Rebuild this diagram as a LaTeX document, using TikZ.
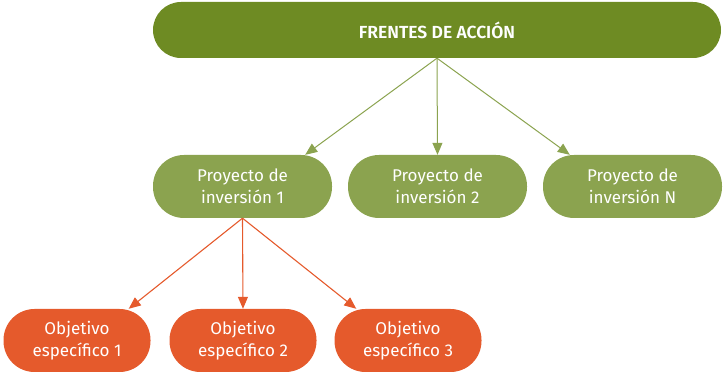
\documentclass[tikz,border=0pt]{standalone}
\usepackage{fontspec}
\setmainfont{Fira Sans}
\usetikzlibrary{arrows.meta,calc}
\definecolor{frente}{HTML}{6E8B23}
\definecolor{proyecto}{HTML}{8BA34F}
\definecolor{objetivo}{HTML}{E55A2C}
\begin{document}
\begin{tikzpicture}[x=1pt,y=-1pt,
    pill/.style={rectangle,inner sep=0pt,text=white,align=center,
                 font=\fontsize{17}{22}\selectfont},
    frentebox/.style={pill,fill=frente,minimum width=568pt,minimum height=56pt,
                 rounded corners=28pt,font=\fontsize{17.5}{22}\selectfont\fontspec{Fira Sans SemiBold}},
    proybox/.style={pill,fill=proyecto,minimum width=179pt,minimum height=63pt,
                 rounded corners=31pt},
    objbox/.style={pill,fill=objetivo,minimum width=147pt,minimum height=63pt,
                 rounded corners=31pt},
    garrow/.style={draw=proyecto,line width=1pt,-{Triangle[length=12pt,width=10pt]}},
    oarrow/.style={draw=objetivo,line width=1.1pt,-{Triangle[length=12pt,width=10pt]}}]
  \useasboundingbox (0,0) rectangle (724,374);
  \node[frentebox] (frentes) at (437,30) {FRENTES DE ACCIÓN};
  \node[proybox] (p1) at (242.5,186.5) {Proyecto de\\inversión 1};
  \node[proybox] (p2) at (437.5,186.5) {Proyecto de\\inversión 2};
  \node[proybox] (pn) at (632.5,186.5) {Proyecto de\\inversión N};
  \node[objbox] (o1) at (77,340.5) {Objetivo\\específico 1};
  \node[objbox] (o2) at (243,340.5) {Objetivo\\específico 2};
  \node[objbox] (o3) at (408,340.5) {Objetivo\\específico 3};
  % flechas verdes
  \draw[garrow] (frentes.south) -- ($(p1.north east)+(-27pt,0)$);
  \draw[garrow] (frentes.south) -- (p2.north);
  \draw[garrow] (frentes.south) -- ($(pn.north west)+(27pt,0)$);
  % flechas naranjas
  \draw[oarrow] (p1.south) -- ($(o1.north east)+(-22pt,0)$);
  \draw[oarrow] (p1.south) -- (o2.north);
  \draw[oarrow] (p1.south) -- ($(o3.north west)+(22pt,0)$);
\end{tikzpicture}
\end{document}
